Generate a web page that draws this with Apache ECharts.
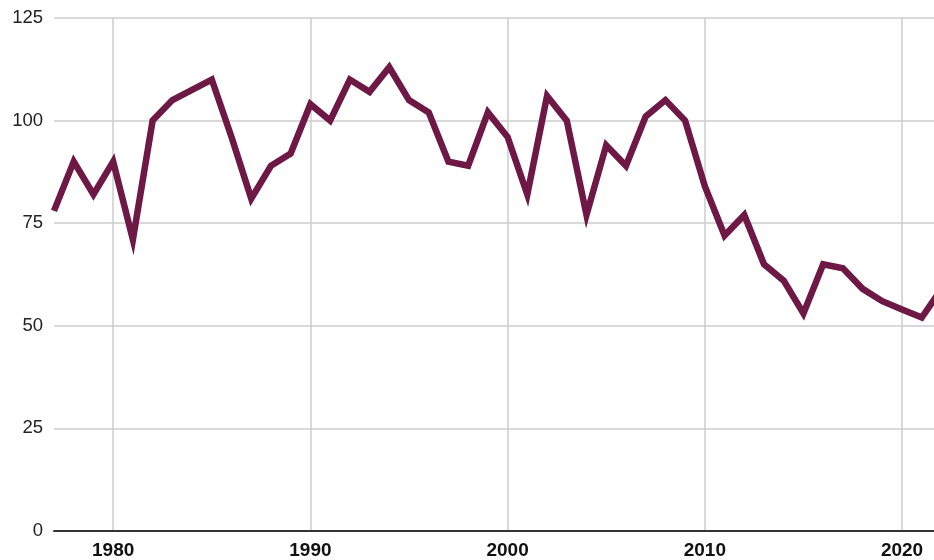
<!DOCTYPE html>
<html>
<head>
<meta charset="utf-8">
<script src="https://cdn.jsdelivr.net/npm/echarts@6/dist/echarts.min.js"></script>
<style>html,body{margin:0;padding:0;background:#fff}#c{width:934px;height:560px}</style>
</head>
<body>
<div id="c"></div>
<script>
const years = [1977,1978,1979,1980,1981,1982,1983,1984,1985,1986,1987,1988,1989,1990,1991,1992,1993,1994,1995,1996,1997,1998,1999,2000,2001,2002,2003,2004,2005,2006,2007,2008,2009,2010,2011,2012,2013,2014,2015,2016,2017,2018,2019,2020,2021,2022];
const values = [78,90,82,90,71,100,105,107.5,110,96,81,89,92,104,100,110,107,113,105,102,90,89,102,96,82,106,100,77,94,89,101,105,100,84,72,77,65,61,53,65,64,59,56,54,52,59];
const xTicks = [1980,1990,2000,2010,2020];
const yTicks = [0,25,50,75,100,125];

const chart = echarts.init(document.getElementById('c'), null, {renderer:'canvas'});
chart.setOption({
  animation:false,
  backgroundColor:'#fff',
  grid:{left:54,right:0,top:18,bottom:28,containLabel:false},
  xAxis:{
    type:'value', min:1977, max:2021.62,
    axisLine:{show:true,onZero:false,lineStyle:{color:'#333',width:2}},
    axisTick:{show:false,customValues:xTicks},
    axisLabel:{customValues:xTicks,formatter:v=>String(v),color:'#111',fontFamily:'Liberation Sans',fontWeight:'bold',fontSize:19,margin:10},
    splitLine:{show:true,lineStyle:{color:'#ccc',width:1.5}}
  },
  yAxis:{
    type:'value', min:0, max:125, interval:25,
    axisLine:{show:false}, axisTick:{show:false},
    axisLabel:{customValues:yTicks,formatter:v=>String(v),color:'#222',fontFamily:'Liberation Sans',fontSize:18.5,margin:11},
    splitLine:{show:true,lineStyle:{color:'#ccc',width:1.5}}
  },
  series:[{
    type:'line',
    data: years.map((y,i)=>[y,values[i]]),
    showSymbol:false, symbol:'none',
    lineStyle:{color:'#6e1845',width:6.5,join:'miter'},
    clip:true
  }]
});
</script>
</body>
</html>
